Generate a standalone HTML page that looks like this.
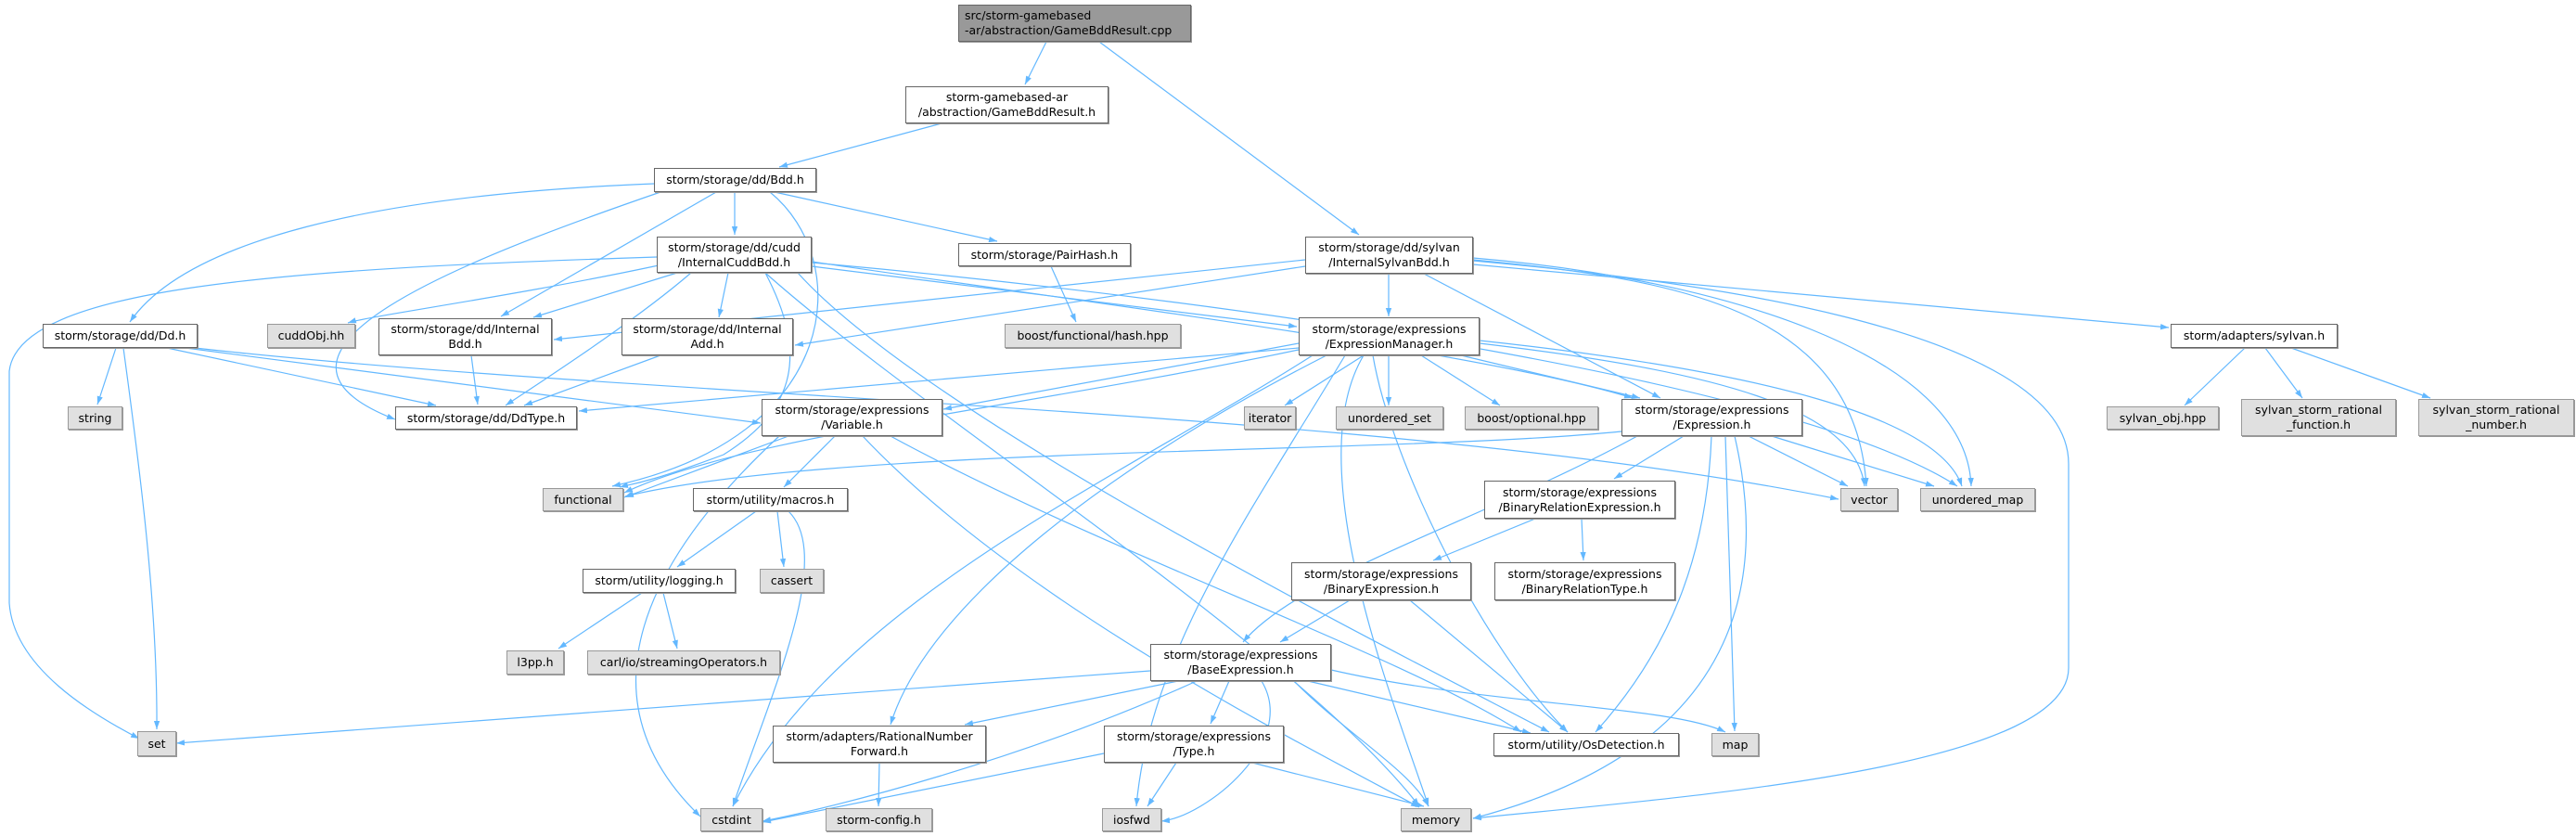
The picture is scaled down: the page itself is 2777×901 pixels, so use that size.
<!DOCTYPE html>
<html><head><meta charset="utf-8">
<style>
html,body{margin:0;padding:0;background:#fff;}
#c{position:relative;width:2777px;height:901px;overflow:hidden;}
svg{position:absolute;left:0;top:0;}
.n{position:absolute;box-sizing:border-box;border:1px solid #666;background:#fff;font-family:"DejaVu Sans","Liberation Sans",sans-serif;font-size:12.5px;line-height:16px;color:#000;display:flex;align-items:center;justify-content:center;text-align:center;white-space:nowrap;box-shadow:1px 1px 0 #999;}
.g{background:#e0e0e0;border-color:#999;}
.r{background:#999;border-color:#666;text-align:left;justify-content:flex-start;padding-left:6px;}
</style></head><body><div id="c">
<svg width="2777" height="901" viewBox="0 0 2777 901">
<defs><marker id="a" viewBox="0 0 10 10" refX="10" refY="5" markerWidth="9" markerHeight="9" orient="auto" markerUnits="userSpaceOnUse"><path d="M0 1.5 L10 5 L0 8.5 z" fill="#63b8ff"/></marker></defs>
<g fill="none" stroke="#63b8ff" stroke-width="1.2" marker-end="url(#a)">
<path d="M1128 45 L1105 91"/>
<path d="M1185 45 L1465 253"/>
<path d="M1015 133 L840 180"/>
<path d="M792 207 L792 253"/>
<path d="M835 207 L1075 260"/>
<path d="M705 198 C400 210, 200 260, 140 347"/>
<path d="M712 207 C500 280, 240 380, 426 452"/>
<path d="M772 207 L540 341"/>
<path d="M830 207 C920 280, 910 470, 660 524"/>
<path d="M708 277 C300 290, 20 310, 10 400 L10 650 C15 720, 100 770, 150 796"/>
<path d="M710 286 C550 320, 400 340, 375 348"/>
<path d="M730 294 L575 342"/>
<path d="M785 294 L775 342"/>
<path d="M745 294 C680 350, 570 420, 545 437"/>
<path d="M825 294 C870 380, 860 440, 780 490 C700 520, 680 522, 668 525"/>
<path d="M875 287 L1398 352"/>
<path d="M875 282 C1200 330, 1600 380, 1760 429"/>
<path d="M875 283 C1400 330, 1950 420, 2110 524"/>
<path d="M825 294 C1000 450, 1400 700, 1530 869"/>
<path d="M860 294 C1000 450, 1500 700, 1670 789"/>
<path d="M1133 287 L1160 347"/>
<path d="M125 375 L105 436"/>
<path d="M133 375 C150 500, 170 650, 169 786"/>
<path d="M180 375 L470 437"/>
<path d="M200 375 L820 456"/>
<path d="M210 375 C700 430, 1500 440, 1982 538"/>
<path d="M508 383 L515 436"/>
<path d="M712 383 L565 437"/>
<path d="M1407 280 L597 366"/>
<path d="M1407 287 L857 372"/>
<path d="M1400 375 L624 443"/>
<path d="M1748 465 C1500 490, 900 480, 674 535"/>
<path d="M1497 295 L1497 341"/>
<path d="M1535 295 L1790 429"/>
<path d="M1588 280 C1800 300, 2000 330, 2012 524"/>
<path d="M1588 278 C1850 300, 2120 380, 2125 524"/>
<path d="M1588 285 L2338 353"/>
<path d="M1588 281 C1800 300, 2230 350, 2230 500 L2230 720 C2230 830, 1800 860, 1588 882"/>
<path d="M2420 375 L2355 437"/>
<path d="M2442 375 L2482 429"/>
<path d="M2470 375 L2620 429"/>
<path d="M1400 370 L1017 441"/>
<path d="M1400 377 C1100 440, 800 470, 673 531"/>
<path d="M1470 383 L1385 437"/>
<path d="M1497 383 L1497 437"/>
<path d="M1532 383 L1617 437"/>
<path d="M1575 383 L1768 429"/>
<path d="M1595 370 C1850 400, 2000 440, 2010 524"/>
<path d="M1595 367 C1900 400, 2090 450, 2115 524"/>
<path d="M1415 383 C1200 520, 900 650, 790 869"/>
<path d="M1450 383 C1350 550, 1240 700, 1225 869"/>
<path d="M1430 383 C1200 500, 1000 650, 960 781"/>
<path d="M1480 383 C1500 500, 1600 700, 1690 789"/>
<path d="M1470 383 C1400 500, 1500 750, 1540 869"/>
<path d="M850 470 L673 536"/>
<path d="M900 470 L845 525"/>
<path d="M840 470 C700 600, 620 750, 755 880"/>
<path d="M930 470 C1100 650, 1400 800, 1530 870"/>
<path d="M960 470 C1200 600, 1500 700, 1640 789"/>
<path d="M815 551 L730 611"/>
<path d="M838 551 L845 611"/>
<path d="M850 551 C900 600, 830 750, 790 869"/>
<path d="M692 639 L602 699"/>
<path d="M715 639 L730 699"/>
<path d="M1815 470 L1740 516"/>
<path d="M1765 470 C1600 560, 1400 620, 1340 692"/>
<path d="M1845 470 C1840 600, 1800 700, 1720 789"/>
<path d="M1860 470 L1870 788"/>
<path d="M1870 470 C1900 600, 1900 800, 1588 882"/>
<path d="M1885 470 L1992 524"/>
<path d="M1910 470 L2085 524"/>
<path d="M1655 559 L1545 604"/>
<path d="M1705 559 L1707 604"/>
<path d="M1455 647 L1380 692"/>
<path d="M1520 647 L1690 789"/>
<path d="M1240 723 L190 801"/>
<path d="M1270 734 L1040 781"/>
<path d="M1325 734 L1305 780"/>
<path d="M1290 734 C1100 820, 900 870, 822 885"/>
<path d="M1360 734 C1400 800, 1300 880, 1252 885"/>
<path d="M1395 734 C1450 790, 1520 830, 1540 869"/>
<path d="M1410 734 L1650 790"/>
<path d="M1435 722 C1600 760, 1800 760, 1860 789"/>
<path d="M948 822 L947 869"/>
<path d="M1190 812 L822 886"/>
<path d="M1268 822 L1237 869"/>
<path d="M1350 822 L1535 869"/>
</g></svg>

<div class="n r" style="left:1033px;top:5px;width:251px;height:40px;">src/storm-gamebased<br>-ar/abstraction/GameBddResult.cpp</div>
<div class="n" style="left:976px;top:93px;width:219px;height:40px;">storm-gamebased-ar<br>/abstraction/GameBddResult.h</div>
<div class="n" style="left:705px;top:181px;width:175px;height:26px;">storm/storage/dd/Bdd.h</div>
<div class="n" style="left:708px;top:255px;width:167px;height:39px;">storm/storage/dd/cudd<br>/InternalCuddBdd.h</div>
<div class="n" style="left:1033px;top:262px;width:186px;height:25px;">storm/storage/PairHash.h</div>
<div class="n" style="left:1407px;top:255px;width:181px;height:40px;">storm/storage/dd/sylvan<br>/InternalSylvanBdd.h</div>
<div class="n" style="left:46px;top:349px;width:167px;height:26px;">storm/storage/dd/Dd.h</div>
<div class="n g" style="left:288px;top:349px;width:95px;height:26px;">cuddObj.hh</div>
<div class="n" style="left:408px;top:343px;width:187px;height:40px;">storm/storage/dd/Internal<br>Bdd.h</div>
<div class="n" style="left:670px;top:343px;width:185px;height:40px;">storm/storage/dd/Internal<br>Add.h</div>
<div class="n g" style="left:1083px;top:349px;width:190px;height:26px;">boost/functional/hash.hpp</div>
<div class="n" style="left:1400px;top:342px;width:195px;height:41px;">storm/storage/expressions<br>/ExpressionManager.h</div>
<div class="n" style="left:2340px;top:349px;width:180px;height:26px;">storm/adapters/sylvan.h</div>
<div class="n g" style="left:73px;top:438px;width:59px;height:25px;">string</div>
<div class="n" style="left:426px;top:438px;width:196px;height:25px;">storm/storage/dd/DdType.h</div>
<div class="n" style="left:821px;top:430px;width:195px;height:40px;">storm/storage/expressions<br>/Variable.h</div>
<div class="n g" style="left:1341px;top:438px;width:56px;height:25px;">iterator</div>
<div class="n g" style="left:1440px;top:438px;width:116px;height:25px;">unordered_set</div>
<div class="n g" style="left:1579px;top:438px;width:144px;height:25px;">boost/optional.hpp</div>
<div class="n" style="left:1748px;top:430px;width:195px;height:40px;">storm/storage/expressions<br>/Expression.h</div>
<div class="n g" style="left:2271px;top:438px;width:121px;height:25px;">sylvan_obj.hpp</div>
<div class="n g" style="left:2416px;top:430px;width:167px;height:40px;">sylvan_storm_rational<br>_function.h</div>
<div class="n g" style="left:2607px;top:430px;width:168px;height:40px;">sylvan_storm_rational<br>_number.h</div>
<div class="n g" style="left:585px;top:526px;width:87px;height:25px;">functional</div>
<div class="n" style="left:747px;top:526px;width:167px;height:25px;">storm/utility/macros.h</div>
<div class="n g" style="left:1984px;top:526px;width:62px;height:25px;">vector</div>
<div class="n g" style="left:2070px;top:526px;width:124px;height:25px;">unordered_map</div>
<div class="n" style="left:1600px;top:518px;width:206px;height:41px;">storm/storage/expressions<br>/BinaryRelationExpression.h</div>
<div class="n" style="left:628px;top:613px;width:165px;height:26px;">storm/utility/logging.h</div>
<div class="n g" style="left:819px;top:613px;width:69px;height:26px;">cassert</div>
<div class="n" style="left:1392px;top:606px;width:194px;height:41px;">storm/storage/expressions<br>/BinaryExpression.h</div>
<div class="n" style="left:1611px;top:606px;width:195px;height:41px;">storm/storage/expressions<br>/BinaryRelationType.h</div>
<div class="n g" style="left:546px;top:701px;width:62px;height:26px;">l3pp.h</div>
<div class="n g" style="left:633px;top:701px;width:208px;height:26px;">carl/io/streamingOperators.h</div>
<div class="n" style="left:1240px;top:694px;width:195px;height:40px;">storm/storage/expressions<br>/BaseExpression.h</div>
<div class="n g" style="left:148px;top:788px;width:42px;height:27px;">set</div>
<div class="n" style="left:833px;top:782px;width:230px;height:40px;">storm/adapters/RationalNumber<br>Forward.h</div>
<div class="n" style="left:1190px;top:782px;width:194px;height:40px;">storm/storage/expressions<br>/Type.h</div>
<div class="n" style="left:1610px;top:790px;width:200px;height:25px;">storm/utility/OsDetection.h</div>
<div class="n g" style="left:1845px;top:790px;width:51px;height:25px;">map</div>
<div class="n g" style="left:755px;top:871px;width:67px;height:25px;">cstdint</div>
<div class="n g" style="left:890px;top:871px;width:115px;height:25px;">storm-config.h</div>
<div class="n g" style="left:1188px;top:871px;width:64px;height:25px;">iosfwd</div>
<div class="n g" style="left:1510px;top:871px;width:76px;height:25px;">memory</div>
</div></body></html>
